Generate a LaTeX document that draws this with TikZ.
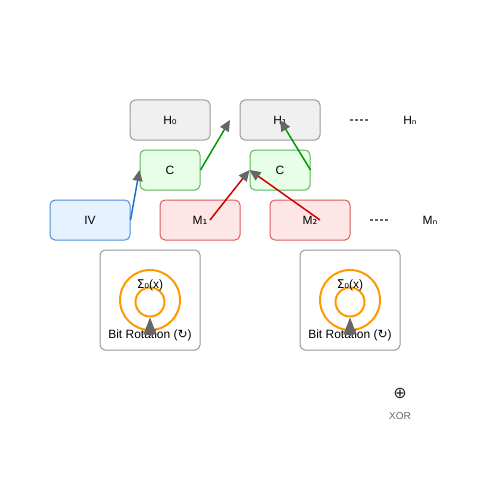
\documentclass[tikz,border=0pt]{standalone}
\usepackage{fontspec}
\setmainfont{Liberation Sans}
\newfontfamily\symf{DejaVu Sans}
\usetikzlibrary{arrows.meta}
\usetikzlibrary{calc}
\definecolor{hfill}{HTML}{F0F0F0}
\definecolor{hdraw}{HTML}{999999}
\definecolor{cfill}{HTML}{E6FFE6}
\definecolor{cdraw}{HTML}{5CB85C}
\definecolor{ivfill}{HTML}{E6F2FF}
\definecolor{ivdraw}{HTML}{4A90D9}
\definecolor{mfill}{HTML}{FFE6E6}
\definecolor{mdraw}{HTML}{DC5C5C}
\definecolor{tipgray}{HTML}{666666}
\definecolor{ringor}{HTML}{FF9900}
\definecolor{lblue}{HTML}{1E6FD0}
\definecolor{lgreen}{HTML}{009900}
\definecolor{lred}{HTML}{CC0000}

\begin{document}
\begin{tikzpicture}[x=1pt,y=-1pt,
    lbl/.style={font=\fontsize{12}{14}\selectfont},
    box/.style={lbl,rounded corners=5pt,line width=1pt,minimum height=40pt,inner sep=0pt},
    hbox/.style={box,draw=hdraw,fill=hfill,minimum width=80pt},
    cbox/.style={box,draw=cdraw,fill=cfill,minimum width=60pt},
    ivbox/.style={box,draw=ivdraw,fill=ivfill,minimum width=80pt},
    mbox/.style={box,draw=mdraw,fill=mfill,minimum width=80pt},
    rotbox/.style={rounded corners=5pt,line width=1pt,draw=hdraw,fill=white,minimum size=100pt,inner sep=0pt},
    ring/.style={circle,draw=ringor,line width=2pt,inner sep=0pt},
    more/.style={draw=tipgray,line width=1.5pt,dash pattern=on 3pt off 2pt},
    flow/.style={line width=1.5pt,-{Triangle[length=11pt,width=10pt,color=tipgray]}},
    spin/.style={draw=tipgray,line width=1.5pt,-{Triangle[length=17pt,width=13pt,color=tipgray]}}]
        \useasboundingbox (0,0) rectangle (500,500);
        % hash values
        \node[hbox] (h0) at (170,120) {H{\symf ₀}};
        \node[hbox] (h1) at (280,120) {H{\symf ₁}};
        \node[lbl] (hn) at (410,120) {H{\symf ₙ}};
        \coordinate (hd1) at (350,120);
        \coordinate (hd2) at (370,120);
        \draw[more] (hd1) -- (hd2);
        % compression
        \node[cbox] (c1) at (170,170) {C};
        \node[cbox] (c2) at (280,170) {C};
        % input blocks
        \node[ivbox] (iv) at (90,220) {IV};
        \node[mbox] (m1) at (200,220) {M{\symf ₁}};
        \node[mbox] (m2) at (310,220) {M{\symf ₂}};
        \node[lbl] (mn) at (430,220) {M{\symf ₙ}};
        \coordinate (md1) at (370,220);
        \coordinate (md2) at (390,220);
        \draw[more] (md1) -- (md2);
        % links
        \coordinate (hmid) at (230,120);
        \draw[flow,lblue] (iv.east) -- (c1.west);
        \draw[flow,lgreen] (c1.east) -- (hmid);
        \draw[flow,lred] ($(m1.center)+(10,0)$) -- (c2.west);
        \draw[flow,lred] ($(m2.center)+(10,0)$) -- (c2.west);
        \draw[flow,lgreen] (c2.east) -- (h1.center);
        % bit rotation
        \foreach \i/\x in {1/150,2/350} {
            \node[rotbox] (rot\i) at (\x,300) {};
            \node[ring,minimum size=60pt] (out\i) at (\x,300) {};
            \node[ring,minimum size=29pt] (in\i) at (\x,302) {};
            \node[lbl] (sig\i) at (\x,285) {{\symf Σ₀}(x)};
            \node[lbl] (rl\i) at (\x,335.5) {Bit Rotation ({\symf ↻})};
            \coordinate (rb\i) at (\x,336);
            \draw[spin] (rb\i) -- (in\i.south);
        }
        % legend
        \node[font=\fontsize{16}{18}\selectfont\symf,text=black!85] (xs) at (400,393) {⊕};
        \node[font=\fontsize{10}{12}\selectfont,text=tipgray] (xl) at (400,416) {XOR};
\end{tikzpicture}
\end{document}
